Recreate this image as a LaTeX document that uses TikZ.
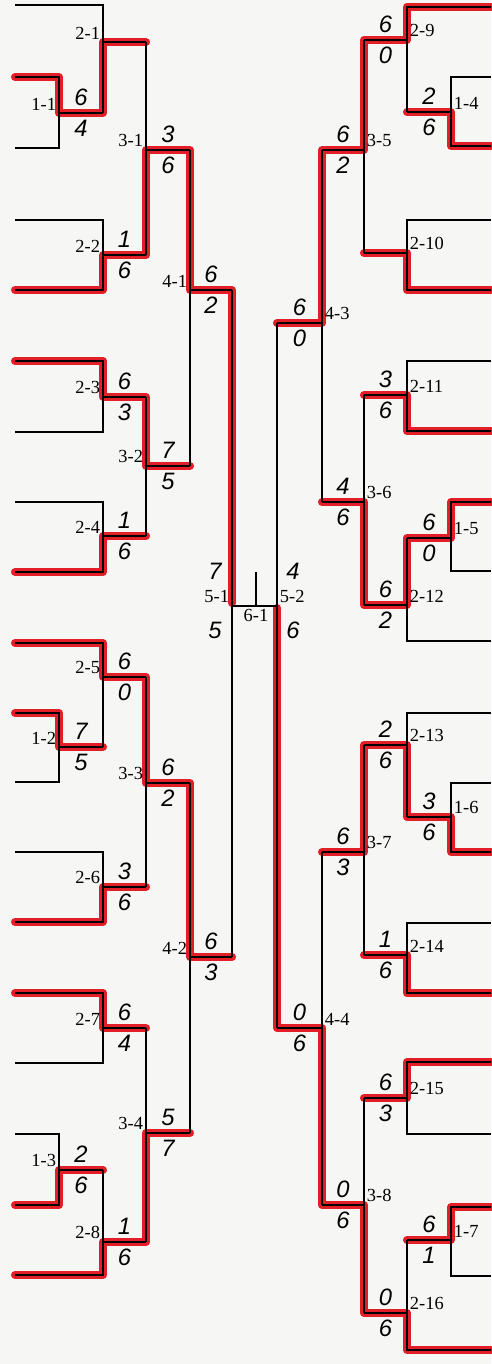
\documentclass[tikz,border=0pt]{standalone}
\usepackage{fontspec}
\setmainfont{Liberation Serif}
\newfontfamily\handfont{Liberation Sans}
\usetikzlibrary{positioning, calc}
\definecolor{markred}{RGB}{226,30,38}
\definecolor{paper}{RGB}{246,246,244}

\begin{document}
\begin{tikzpicture}[
    x=0.02cm, y=-0.02cm,
    bline/.style={line width=1.1pt, black, line join=miter},
    win/.style={line width=4.6pt, markred, line join=round, line cap=round},
    tag/.style={font=\fontsize{10.5}{11}\selectfont, inner sep=1.5pt},
    tagL/.style={tag, anchor=south east},
    tagR/.style={tag, anchor=south west},
    score/.style={font=\handfont\itshape\fontsize{13.5}{13.5}\selectfont, inner sep=3.6pt}
]
\fill[paper] (0,0) rectangle (491,1364);
\useasboundingbox (0,0) rectangle (491,1364);

% Junctions (left half)
\coordinate (j11) at (59,113);
\coordinate (j12) at (59,747);
\coordinate (j13) at (59,1170);
\coordinate (j21) at (103,42);
\coordinate (j22) at (103,255);
\coordinate (j23) at (103,397);
\coordinate (j24) at (103,536);
\coordinate (j25) at (103,677);
\coordinate (j26) at (103,887);
\coordinate (j27) at (103,1028);
\coordinate (j28) at (103,1242);
\coordinate (j31) at (146,150);
\coordinate (j32) at (146,466);
\coordinate (j33) at (146,783);
\coordinate (j34) at (146,1133);
\coordinate (j41) at (190,290);
\coordinate (j42) at (190,957);
\coordinate (j51) at (232,606);
\coordinate (j61) at (256,606);
% Junctions (right half)
\coordinate (j52) at (277,606);
\coordinate (j43) at (322,323);
\coordinate (j44) at (322,1028);
\coordinate (j35) at (364,150);
\coordinate (j36) at (364,502);
\coordinate (j37) at (364,852);
\coordinate (j38) at (364,1205);
\coordinate (j29) at (407,40);
\coordinate (j210) at (407,253);
\coordinate (j211) at (407,395);
\coordinate (j212) at (407,605);
\coordinate (j213) at (407,745);
\coordinate (j214) at (407,955);
\coordinate (j215) at (407,1098);
\coordinate (j216) at (407,1313);
\coordinate (j14) at (451,112);
\coordinate (j15) at (451,538);
\coordinate (j16) at (451,817);
\coordinate (j17) at (451,1240);

% Winning paths (marker)
\draw[win] (15,77) -- (59,77) -- (j11) -- (103,113) -- (j21) -- (146,42);
\draw[win] (15,290) -- (103,290) -- (j22) -- (146,255) -- (j31) -- (190,150) -- (j41) -- (232,290) -- (232,603);
\draw[win] (15,361) -- (103,361) -- (j23) -- (146,397) -- (j32) -- (190,466);
\draw[win] (15,572) -- (103,572) -- (j24) -- (146,536);
\draw[win] (15,643) -- (103,643) -- (j25) -- (146,677) -- (j33) -- (190,783) -- (j42) -- (232,957);
\draw[win] (15,713) -- (59,713) -- (j12) -- (103,747);
\draw[win] (15,922) -- (103,922) -- (j26) -- (146,887);
\draw[win] (15,993) -- (103,993) -- (j27) -- (146,1028);
\draw[win] (15,1205) -- (59,1205) -- (j13) -- (103,1170);
\draw[win] (15,1275) -- (103,1275) -- (j28) -- (146,1242) -- (j34) -- (190,1133);

\draw[win] (491,7) -- (407,7) -- (j29) -- (364,40) -- (j35) -- (322,150) -- (j43) -- (277,323);
\draw[win] (491,146) -- (451,146) -- (j14) -- (407,112);
\draw[win] (491,290) -- (407,290) -- (j210) -- (364,253);
\draw[win] (491,431) -- (407,431) -- (j211) -- (364,395);
\draw[win] (491,502) -- (451,502) -- (j15) -- (407,538) -- (j212) -- (364,605) -- (j36) -- (322,502);
\draw[win] (491,852) -- (451,852) -- (j16) -- (407,817) -- (j213) -- (364,745) -- (j37) -- (322,852);
\draw[win] (491,993) -- (407,993) -- (j214) -- (364,955);
\draw[win] (491,1062) -- (407,1062) -- (j215) -- (364,1098);
\draw[win] (491,1207) -- (451,1207) -- (j17) -- (407,1240);
\draw[win] (491,1350) -- (407,1350) -- (j216) -- (364,1313) -- (j38) -- (322,1205) -- (j44) -- (277,1028) -- (277,608);

% Brackets (left half)
\draw[bline] (15,5) -- (103,5) -- (103,113);
\draw[bline] (15,77) -- (59,77) -- (59,148) -- (15,148);
\draw[bline] (15,220) -- (103,220) -- (103,290) -- (15,290);
\draw[bline] (15,361) -- (103,361) -- (103,432) -- (15,432);
\draw[bline] (15,502) -- (103,502) -- (103,572) -- (15,572);
\draw[bline] (15,643) -- (103,643) -- (103,747);
\draw[bline] (15,713) -- (59,713) -- (59,782) -- (15,782);
\draw[bline] (15,852) -- (103,852) -- (103,922) -- (15,922);
\draw[bline] (15,993) -- (103,993) -- (103,1063) -- (15,1063);
\draw[bline] (15,1134) -- (59,1134) -- (59,1205) -- (15,1205);
\draw[bline] (103,1170) -- (103,1275) -- (15,1275);
\draw[bline] (146,42) -- (146,255);
\draw[bline] (146,397) -- (146,536);
\draw[bline] (146,677) -- (146,887);
\draw[bline] (146,1028) -- (146,1242);
\draw[bline] (190,150) -- (190,466);
\draw[bline] (190,783) -- (190,1133);
\draw[bline] (232,290) -- (232,957);
% Brackets (right half)
\draw[bline] (277,323) -- (277,1028);
\draw[bline] (322,150) -- (322,502);
\draw[bline] (322,852) -- (322,1205);
\draw[bline] (364,40) -- (364,253);
\draw[bline] (364,395) -- (364,605);
\draw[bline] (364,745) -- (364,955);
\draw[bline] (364,1098) -- (364,1313);
\draw[bline] (491,7) -- (407,7) -- (407,112);
\draw[bline] (491,77) -- (451,77) -- (451,146) -- (491,146);
\draw[bline] (491,220) -- (407,220) -- (407,290) -- (491,290);
\draw[bline] (491,361) -- (407,361) -- (407,431) -- (491,431);
\draw[bline] (491,502) -- (451,502) -- (451,571) -- (491,571);
\draw[bline] (407,538) -- (407,641) -- (491,641);
\draw[bline] (491,713) -- (407,713) -- (407,817);
\draw[bline] (491,783) -- (451,783) -- (451,852) -- (491,852);
\draw[bline] (491,923) -- (407,923) -- (407,993) -- (491,993);
\draw[bline] (491,1062) -- (407,1062) -- (407,1134) -- (491,1134);
\draw[bline] (491,1207) -- (451,1207) -- (451,1276) -- (491,1276);
\draw[bline] (407,1240) -- (407,1350) -- (491,1350);

% Match lines with scores (left half)
\draw[bline] (j11) -- node[score, above] (s11a) {6} node[score, below] (s11b) {4} (j11 -| j21);
\draw[bline] (j12) -- node[score, above] (s12a) {7} node[score, below] (s12b) {5} (j12 -| j25);
\draw[bline] (j13) -- node[score, above] (s13a) {2} node[score, below] (s13b) {6} (j13 -| j28);
\draw[bline] (j21) -- (j21 -| j31);
\draw[bline] (j22) -- node[score, above] (s22a) {1} node[score, below] (s22b) {6} (j22 -| j31);
\draw[bline] (j23) -- node[score, above] (s23a) {6} node[score, below] (s23b) {3} (j23 -| j32);
\draw[bline] (j24) -- node[score, above] (s24a) {1} node[score, below] (s24b) {6} (j24 -| j32);
\draw[bline] (j25) -- node[score, above] (s25a) {6} node[score, below] (s25b) {0} (j25 -| j33);
\draw[bline] (j26) -- node[score, above] (s26a) {3} node[score, below] (s26b) {6} (j26 -| j33);
\draw[bline] (j27) -- node[score, above] (s27a) {6} node[score, below] (s27b) {4} (j27 -| j34);
\draw[bline] (j28) -- node[score, above] (s28a) {1} node[score, below] (s28b) {6} (j28 -| j34);
\draw[bline] (j31) -- node[score, above] (s31a) {3} node[score, below] (s31b) {6} (j31 -| j41);
\draw[bline] (j32) -- node[score, above] (s32a) {7} node[score, below] (s32b) {5} (j32 -| j41);
\draw[bline] (j33) -- node[score, above] (s33a) {6} node[score, below] (s33b) {2} (j33 -| j42);
\draw[bline] (j34) -- node[score, above] (s34a) {5} node[score, below] (s34b) {7} (j34 -| j42);
\draw[bline] (j41) -- node[score, above] (s41a) {6} node[score, below] (s41b) {2} (j41 -| j51);
\draw[bline] (j42) -- node[score, above] (s42a) {6} node[score, below] (s42b) {3} (j42 -| j51);
% Match lines with scores (right half)
\draw[bline] (j43) -- node[score, above] (s43a) {6} node[score, below] (s43b) {0} (j43 -| j52);
\draw[bline] (j44) -- node[score, above] (s44a) {0} node[score, below] (s44b) {6} (j44 -| j52);
\draw[bline] (j35) -- node[score, above] (s35a) {6} node[score, below] (s35b) {2} (j35 -| j43);
\draw[bline] (j36) -- node[score, above] (s36a) {4} node[score, below] (s36b) {6} (j36 -| j43);
\draw[bline] (j37) -- node[score, above] (s37a) {6} node[score, below] (s37b) {3} (j37 -| j44);
\draw[bline] (j38) -- node[score, above] (s38a) {0} node[score, below] (s38b) {6} (j38 -| j44);
\draw[bline] (j29) -- node[score, above] (s29a) {6} node[score, below] (s29b) {0} (j29 -| j35);
\draw[bline] (j210) -- (j210 -| j35);
\draw[bline] (j211) -- node[score, above] (s211a) {3} node[score, below] (s211b) {6} (j211 -| j36);
\draw[bline] (j212) -- node[score, above] (s212a) {6} node[score, below] (s212b) {2} (j212 -| j36);
\draw[bline] (j213) -- node[score, above] (s213a) {2} node[score, below] (s213b) {6} (j213 -| j37);
\draw[bline] (j214) -- node[score, above] (s214a) {1} node[score, below] (s214b) {6} (j214 -| j37);
\draw[bline] (j215) -- node[score, above] (s215a) {6} node[score, below] (s215b) {3} (j215 -| j38);
\draw[bline] (j216) -- node[score, above] (s216a) {0} node[score, below] (s216b) {6} (j216 -| j38);
\draw[bline] (j14) -- node[score, above] (s14a) {2} node[score, below] (s14b) {6} (j14 -| j29);
\draw[bline] (j15) -- node[score, above] (s15a) {6} node[score, below] (s15b) {0} (j15 -| j212);
\draw[bline] (j16) -- node[score, above] (s16a) {3} node[score, below] (s16b) {6} (j16 -| j213);
\draw[bline] (j17) -- node[score, above] (s17a) {6} node[score, below] (s17b) {1} (j17 -| j216);

% Final
\draw[bline] (j51) -- (j52);
\draw[bline] (j61) -- ++(0,-34);
\node[score] (s51a) at ($(j51)+(-17,-35)$) {7};
\node[score] (s51b) at ($(j51)+(-17,24)$) {5};
\node[score] (s52a) at ($(j52)+(16,-35)$) {4};
\node[score] (s52b) at ($(j52)+(16,24)$) {6};

% Match numbers
\node[tagL] (t11) at (j11) {1-1};
\node[tagL] (t12) at (j12) {1-2};
\node[tagL] (t13) at (j13) {1-3};
\node[tagL] (t21) at (j21) {2-1};
\node[tagL] (t22) at (j22) {2-2};
\node[tagL] (t23) at (j23) {2-3};
\node[tagL] (t24) at (j24) {2-4};
\node[tagL] (t25) at (j25) {2-5};
\node[tagL] (t26) at (j26) {2-6};
\node[tagL] (t27) at (j27) {2-7};
\node[tagL] (t28) at (j28) {2-8};
\node[tagL] (t31) at (j31) {3-1};
\node[tagL] (t32) at (j32) {3-2};
\node[tagL] (t33) at (j33) {3-3};
\node[tagL] (t34) at (j34) {3-4};
\node[tagL] (t41) at (j41) {4-1};
\node[tagL] (t42) at (j42) {4-2};
\node[tagL] (t51) at (j51) {5-1};
\node[tag, anchor=north] (t61) at (j61) {6-1};
\node[tagR] (t52) at (j52) {5-2};
\node[tagR] (t43) at (j43) {4-3};
\node[tagR] (t44) at (j44) {4-4};
\node[tagR] (t35) at (j35) {3-5};
\node[tagR] (t36) at (j36) {3-6};
\node[tagR] (t37) at (j37) {3-7};
\node[tagR] (t38) at (j38) {3-8};
\node[tagR] (t29) at (j29) {2-9};
\node[tagR] (t210) at (j210) {2-10};
\node[tagR] (t211) at (j211) {2-11};
\node[tagR] (t212) at (j212) {2-12};
\node[tagR] (t213) at (j213) {2-13};
\node[tagR] (t214) at (j214) {2-14};
\node[tagR] (t215) at (j215) {2-15};
\node[tagR] (t216) at (j216) {2-16};
\node[tagR] (t14) at (j14) {1-4};
\node[tagR] (t15) at (j15) {1-5};
\node[tagR] (t16) at (j16) {1-6};
\node[tagR] (t17) at (j17) {1-7};
\end{tikzpicture}
\end{document}
